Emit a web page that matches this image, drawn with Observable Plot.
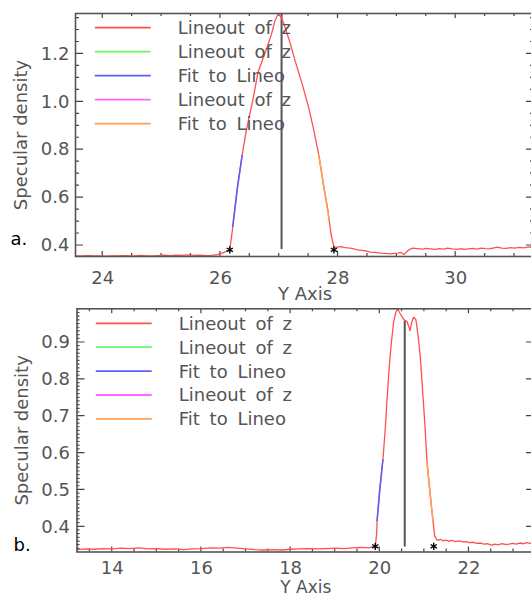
<!DOCTYPE html>
<html><head><meta charset="utf-8">
<script src="https://cdn.jsdelivr.net/npm/d3@7"></script>
<script src="https://cdn.jsdelivr.net/npm/@observablehq/plot@0.6"></script>
<style>
html,body{margin:0;padding:0;background:#fff;overflow:hidden;}
#wrap{position:relative;width:531px;height:597px;overflow:hidden;background:#fff;}
#wrap svg{position:absolute;left:0;}
</style></head><body><div id="wrap"></div>
<script>
// ---------- Panel a data ----------
const aX = [23.54,23.65,23.75,23.85,23.95,24.05,24.15,24.25,24.35,24.45,24.55,24.65,24.75,24.85,24.95,25.05,25.15,25.25,25.35,25.45,25.55,25.65,25.75,25.85,25.95,26.05,26.12,26.16,26.21,26.29,26.37,26.44,26.55,26.64,26.72,26.80,26.87,26.93,26.98,27.03,27.08,27.19,27.27,27.39,27.50,27.59,27.68,27.76,27.82,27.88,27.93,27.99,28.05,28.10,28.16,28.21,28.27,28.33,28.40,28.47,28.55,28.63,28.72,28.80,28.89,28.96,29.02,29.07,29.12,29.16,29.21,29.27,29.35,29.43,29.50,29.57,29.65,29.72,29.80,29.86,29.94,30.02,30.10,30.14,30.22,30.30,30.36,30.43,30.50,30.58,30.65,30.71,30.78,30.86,30.93,31.00,31.08,31.15,31.22,31.30,31.34];
const aY = [0.357,0.356,0.358,0.356,0.357,0.355,0.357,0.356,0.358,0.356,0.357,0.359,0.357,0.356,0.358,0.360,0.358,0.360,0.359,0.361,0.359,0.360,0.358,0.359,0.362,0.370,0.378,0.383,0.476,0.643,0.776,0.880,1.005,1.124,1.178,1.232,1.284,1.340,1.366,1.355,1.326,1.242,1.172,1.075,0.977,0.880,0.769,0.643,0.560,0.449,0.393,0.393,0.395,0.392,0.390,0.389,0.386,0.382,0.380,0.378,0.372,0.371,0.368,0.367,0.365,0.367,0.368,0.371,0.362,0.372,0.383,0.389,0.387,0.385,0.388,0.386,0.384,0.387,0.385,0.389,0.386,0.384,0.387,0.384,0.386,0.388,0.385,0.389,0.387,0.386,0.390,0.393,0.389,0.388,0.391,0.389,0.392,0.390,0.393,0.394,0.393];
const aBlueX = [26.21, 26.29, 26.37];
const aBlueY = [0.480, 0.643, 0.776];
const aOrangeX = [27.67, 27.76, 27.85];
const aOrangeY = [0.780, 0.643, 0.505];
const aStarX = [26.16, 27.93];
const aStarY = [0.382, 0.382];
const aVertX = [27.04];
const aVertY = [0.383, 1.365];
const aXTicks = [24, 26, 28, 30];
const aYTicks = [0.4, 0.6, 0.8, 1.0, 1.2];

// ---------- Panel b data ----------
const bX = [13.21,13.4,13.6,13.8,14.0,14.2,14.4,14.6,14.8,15.0,15.2,15.4,15.6,15.8,16.0,16.2,16.4,16.6,16.8,17.0,17.2,17.4,17.6,17.8,18.0,18.2,18.4,18.6,18.8,19.0,19.2,19.4,19.6,19.75,19.85,19.90,19.93,19.94,20.00,20.07,20.12,20.16,20.21,20.26,20.31,20.36,20.40,20.46,20.54,20.61,20.66,20.68,20.71,20.76,20.81,20.86,20.91,20.95,21.01,21.06,21.12,21.19,21.23,21.27,21.31,21.36,21.42,21.48,21.55,21.62,21.70,21.78,21.86,21.94,22.02,22.10,22.18,22.26,22.34,22.42,22.50,22.58,22.66,22.74,22.82,22.90,22.98,23.06,23.14,23.22,23.30,23.38,23.47];
const bY = [0.338,0.340,0.339,0.341,0.340,0.342,0.341,0.343,0.340,0.341,0.339,0.340,0.338,0.340,0.341,0.343,0.342,0.344,0.342,0.340,0.338,0.337,0.338,0.337,0.339,0.340,0.341,0.340,0.341,0.342,0.341,0.343,0.344,0.343,0.346,0.347,0.381,0.417,0.500,0.582,0.660,0.740,0.830,0.900,0.955,0.982,0.991,0.978,0.962,0.957,0.940,0.932,0.952,0.969,0.962,0.918,0.860,0.788,0.680,0.575,0.500,0.420,0.376,0.366,0.364,0.366,0.362,0.364,0.361,0.363,0.360,0.362,0.359,0.360,0.357,0.358,0.355,0.356,0.353,0.354,0.350,0.353,0.351,0.354,0.352,0.353,0.355,0.353,0.356,0.354,0.357,0.355,0.356];
const bBlueX = [19.94, 20.00, 20.07];
const bBlueY = [0.417, 0.500, 0.582];
const bOrangeX = [21.06, 21.12, 21.19];
const bOrangeY = [0.575, 0.500, 0.420];
const bStarX = [19.90, 21.21];
const bStarY = [0.347, 0.347];
const bVertX = [20.56];
const bVertY = [0.345, 0.958];
const bXTicks = [14, 16, 18, 20, 22];
const bYTicks = [0.4, 0.5, 0.6, 0.7, 0.8, 0.9];

// ---------- Shared ----------
const legendLabels = ["Lineout of z", "Lineout of z", "Fit to Lineo", "Lineout of z", "Fit to Lineo"];
const legendColors = ["#ff5050", "#6cf56c", "#5c5cff", "#ff66ff", "#ffa055"];
const yTitle = "Specular density";
const xTitle = "Y Axis";

const FONT = "DejaVu Sans";
const GRAY = "#555";

function range(a, b, step) {
  const out = [];
  const n = Math.round((b - a) / step);
  for (let i = 0; i <= n; i++) out.push(+(a + i * step).toFixed(4));
  return out;
}

function tickMark(xMinorStep, yMinorStep, yMajorStep, xMajorTicks, xMaj, xMin, yMaj, yMin) {
  return (index, scales, values, dims) => {
    const {x, y} = scales;
    const L = dims.marginLeft, R = dims.width - dims.marginRight;
    const T = dims.marginTop, B = dims.height - dims.marginBottom;
    const [x0, x1] = x.domain(), [y0, y1] = y.domain();
    let p = "";
    for (const v of range(Math.ceil(x0 / xMinorStep) * xMinorStep, Math.floor(x1 / xMinorStep) * xMinorStep, xMinorStep)) {
      const isMaj = xMajorTicks.some(t => Math.abs(t - v) < 1e-6);
      const len = isMaj ? xMaj : xMin;
      const px = x(v);
      p += `M${px},${B}v${-len}M${px},${T}v${len}`;
    }
    for (const v of range(Math.ceil(y0 / yMinorStep - 1e-6) * yMinorStep, Math.floor(y1 / yMinorStep + 1e-6) * yMinorStep, yMinorStep)) {
      const r = v / yMajorStep;
      const isMaj = Math.abs(r - Math.round(r)) < 1e-4;
      const len = isMaj ? yMaj : yMin;
      const py = y(v);
      p += `M${L},${py}h${len}M${R},${py}h${-len}`;
    }
    const g = d3.create("svg:g");
    g.append("path").attr("d", p).attr("fill", "none").attr("stroke", "#444").attr("stroke-width", 1.2);
    return g.node();
  };
}

function legendMark(lineX0, lineX1, textX, rowY0, rowStep) {
  return (index, scales, values, dims) => {
    const L = dims.marginLeft, T = dims.marginTop;
    const g = d3.create("svg:g");
    legendLabels.forEach((lab, i) => {
      const yy = T + rowY0 + rowStep * i;
      g.append("line").attr("x1", L + lineX0).attr("x2", L + lineX1).attr("y1", yy).attr("y2", yy)
        .attr("stroke", legendColors[i]).attr("stroke-width", 1.8);
      g.append("text").attr("x", L + textX).attr("y", yy).attr("dy", "0.36em")
        .attr("text-anchor", "start")
        .attr("fill", GRAY).attr("font-family", FONT).attr("font-size", 18)
        .attr("word-spacing", "4px").text(lab);
    });
    return g.node();
  };
}

function panel(cfg) {
  const xy = (xs, ys) => xs.map((x, i) => ({x, y: ys[i]}));
  return Plot.plot({
    width: 536,
    height: cfg.height,
    marginLeft: cfg.mL, marginRight: 2, marginTop: cfg.mT, marginBottom: cfg.mB,
    style: {fontFamily: FONT, fontSize: "18px", color: GRAY, background: "transparent", overflow: "visible", maxWidth: "none"},
    x: {domain: cfg.xDomain, label: null},
    y: {domain: cfg.yDomain, label: null},
    marks: [
      Plot.axisX({ticks: cfg.xTicks, tickSize: 0, tickPadding: cfg.xPad, tickFormat: d3.format("d"), fill: GRAY, fontSize: 18, label: null}),
      Plot.axisY({ticks: cfg.yTicks, tickSize: 0, tickPadding: cfg.yPad, tickFormat: d3.format(".1f"), fill: GRAY, fontSize: 18, label: null}),
      tickMark(0.5, cfg.yMinor, cfg.yMajorStep, cfg.xTicks, 5, 3, 8, cfg.yMinLen),
      Plot.ruleX(cfg.vertX, {x: d => d, y1: cfg.vertY[0], y2: cfg.vertY[1], stroke: "#555", strokeWidth: 2}),
      Plot.line(xy(cfg.cx, cfg.cy), {x: "x", y: "y", stroke: legendColors[0], strokeWidth: 1.3}),
      Plot.line(xy(cfg.blueX, cfg.blueY), {x: "x", y: "y", stroke: legendColors[2], strokeWidth: 1.5}),
      Plot.line(xy(cfg.orX, cfg.orY), {x: "x", y: "y", stroke: legendColors[4], strokeWidth: 1.5}),
      Plot.dot(xy(cfg.starX, cfg.starY), {x: "x", y: "y", symbol: "asterisk", r: 3.4, stroke: "#000", strokeWidth: 1.4}),
      legendMark(cfg.leg[0], cfg.leg[1], cfg.leg[2], cfg.leg[3], cfg.leg[4]),
      Plot.text([yTitle], {frameAnchor: "left", dx: cfg.yTitleDx, rotate: -90, textAnchor: "middle", lineAnchor: "middle", fill: GRAY, fontSize: 18}),
      Plot.text([xTitle], {frameAnchor: "bottom", dy: cfg.xTitleDy, textAnchor: "middle", lineAnchor: "middle", fill: GRAY, fontSize: cfg.xTitleSize}),
      Plot.text([cfg.tag], {frameAnchor: "bottom-left", dx: cfg.tagDx, dy: cfg.tagDy, textAnchor: "start", lineAnchor: "middle", fill: "#000", fontSize: 18}),
      Plot.frame({stroke: "#555", strokeWidth: 1.6})
    ]
  });
}

const wrap = document.getElementById("wrap");

const svgA = panel({
  height: 300, mL: 75, mT: 13, mB: 44,
  xDomain: [23.537, 31.34], yDomain: [0.354, 1.369],
  xTicks: aXTicks, yTicks: aYTicks, xPad: 15, yPad: 6,
  yMinor: 0.05, yMajorStep: 0.2, yMinLen: 4,
  cx: aX, cy: aY, blueX: aBlueX, blueY: aBlueY, orX: aOrangeX, orY: aOrangeY,
  starX: aStarX, starY: aStarY, vertX: aVertX, vertY: aVertY,
  leg: [19.8, 75.7, 102.8, 14.7, 24],
  yTitleDx: -53.8, xTitleDy: 37.5, xTitleSize: 18, tag: "a.", tagDx: -65, tagDy: -16.8
});
svgA.style.top = "0px";
wrap.appendChild(svgA);

const svgB = panel({
  height: 297, mL: 76.5, mT: 8.3, mB: 45.5,
  xDomain: [13.21, 23.47], yDomain: [0.3316, 0.9914],
  xTicks: bXTicks, yTicks: bYTicks, xPad: 9.5, yPad: 7,
  yMinor: 0.01, yMajorStep: 0.1, yMinLen: 3,
  cx: bX, cy: bY, blueX: bBlueX, blueY: bBlueY, orX: bOrangeX, orY: bOrangeY,
  starX: bStarX, starY: bStarY, vertX: bVertX, vertY: bVertY,
  leg: [19.3, 75.2, 102.3, 15, 23.9],
  yTitleDx: -54.3, xTitleDy: 36, xTitleSize: 17, tag: "b.", tagDx: -63.5, tagDy: -6.3
});
svgB.style.top = "300px";
wrap.appendChild(svgB);
</script></body></html>
